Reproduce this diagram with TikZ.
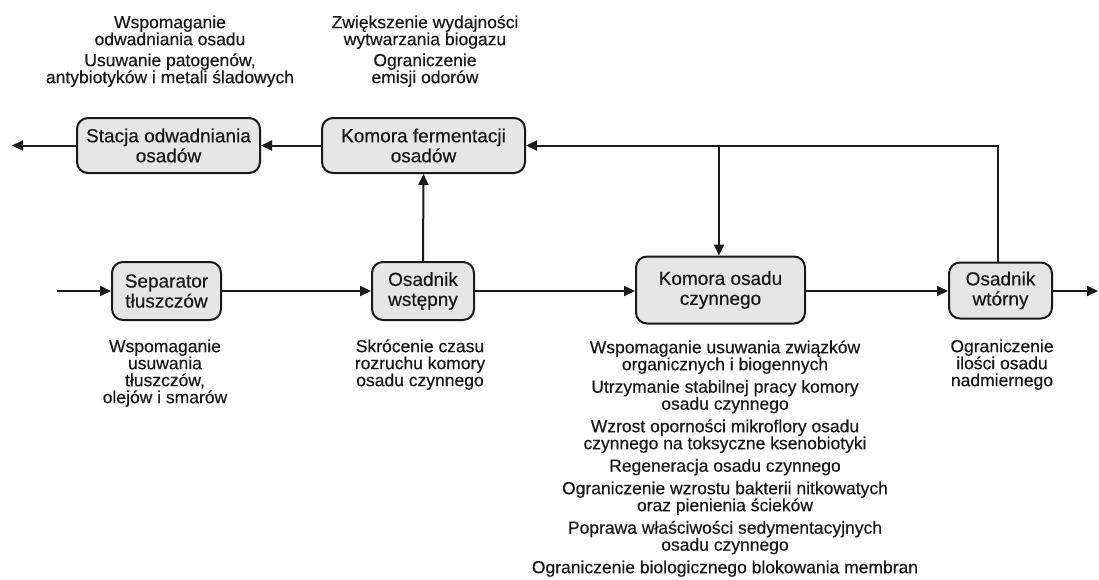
\documentclass[tikz,border=0pt]{standalone}
\usepackage{fontspec}
\setmainfont{Liberation Sans}[FakeBold=0.45]
\usetikzlibrary{arrows.meta}
\definecolor{boxgray}{RGB}{230,230,230}
\definecolor{ink}{RGB}{25,25,25}
\newcommand\boxfont{\fontsize{19}{20}\selectfont}
\newcommand\notefont{\fontsize{17.5}{17}\selectfont\lineskiplimit=-20pt}
\newcommand\topstrut{\rule{0pt}{15pt}}
\begin{document}
\begin{tikzpicture}[x=1pt,y=-1pt,
  box/.style={draw=ink, line width=2pt, fill=boxgray, rounded corners=11pt,
    align=center, inner sep=0pt, font=\boxfont, text=ink},
  flow/.style={line width=2pt, draw=ink, -{Triangle[length=11pt,width=10pt]}},
  note/.style={align=center, inner sep=0pt, anchor=north, font=\notefont, text=ink}
]
\useasboundingbox (0,0) rectangle (1099,579);

% process units
\node[box, minimum width=183pt, minimum height=55pt] (sta) at (168.5,145.5) {Stacja odwadniania\\osadów};
\node[box, minimum width=203pt, minimum height=55pt] (fer) at (423.5,145.5) {Komora fermentacji\\osadów};
\node[box, minimum width=109pt, minimum height=58pt] (sep) at (166.5,291) {Separator\\tłuszczów};
\node[box, minimum width=102pt, minimum height=58pt] (ow) at (423,291) {Osadnik\\wstępny};
\node[box, minimum width=169pt, minimum height=67pt] (kos) at (720.5,290) {Komora osadu\\czynnego};
\node[box, minimum width=103pt, minimum height=56pt] (wt) at (1000.5,290.5) {Osadnik\\wtórny};

% free ends of the flow
\coordinate (in) at (57,291);
\coordinate (out) at (1098,291);
\coordinate (sludge) at (12,145.5);

% wastewater line
\draw[flow] (in) -- (sep.west |- in);
\draw[flow] (sep.east |- in) -- (ow.west |- in);
\draw[flow] (ow.east |- in) -- (kos.west |- in);
\draw[flow] (kos.east |- in) -- (wt.west |- in);
\draw[flow] (wt.east |- in) -- (out);

% sludge line
\draw[flow] (ow.north) -- (fer.south);
\draw[flow] (fer.west) -- (sta.east);
\draw[flow] (sta.west) -- (sludge);
\draw[flow] (wt.north -| 998,0) |- (fer.east);
\draw[flow] (719,145.5) -- (kos.north -| 719,0);

% effects of each stage
\node[note] (n1) at (170,13) {\topstrut Wspomaganie\\odwadniania osadu\\[4pt]
  Usuwanie patogenów,\\antybiotyków i metali śladowych};
\node[note] (n2) at (425,13) {\topstrut Zwiększenie wydajności\\wytwarzania biogazu\\[4pt]
  Ograniczenie\\emisji odorów};
\node[note] (n3) at (165,337) {\topstrut Wspomaganie\\usuwania\\tłuszczów,\\olejów i smarów};
\node[note] (n4) at (420,337) {\topstrut Skrócenie czasu\\rozruchu komory\\osadu czynnego};
\node[note] (n5) at (725,338) {\topstrut Wspomaganie usuwania związków\\organicznych i biogennych\\[5.5pt]
  Utrzymanie stabilnej pracy komory\\osadu czynnego\\[5.5pt]
  Wzrost oporności mikroflory osadu\\czynnego na toksyczne ksenobiotyki\\[5.5pt]
  Regeneracja osadu czynnego\\[5.5pt]
  Ograniczenie wzrostu bakterii nitkowatych\\oraz pienienia ścieków\\[5.5pt]
  Poprawa właściwości sedymentacyjnych\\osadu czynnego\\[5.5pt]
  Ograniczenie biologicznego blokowania membran};
\node[note] (n6) at (1002,337) {\topstrut Ograniczenie\\ilości osadu\\nadmiernego};
\end{tikzpicture}
\end{document}
